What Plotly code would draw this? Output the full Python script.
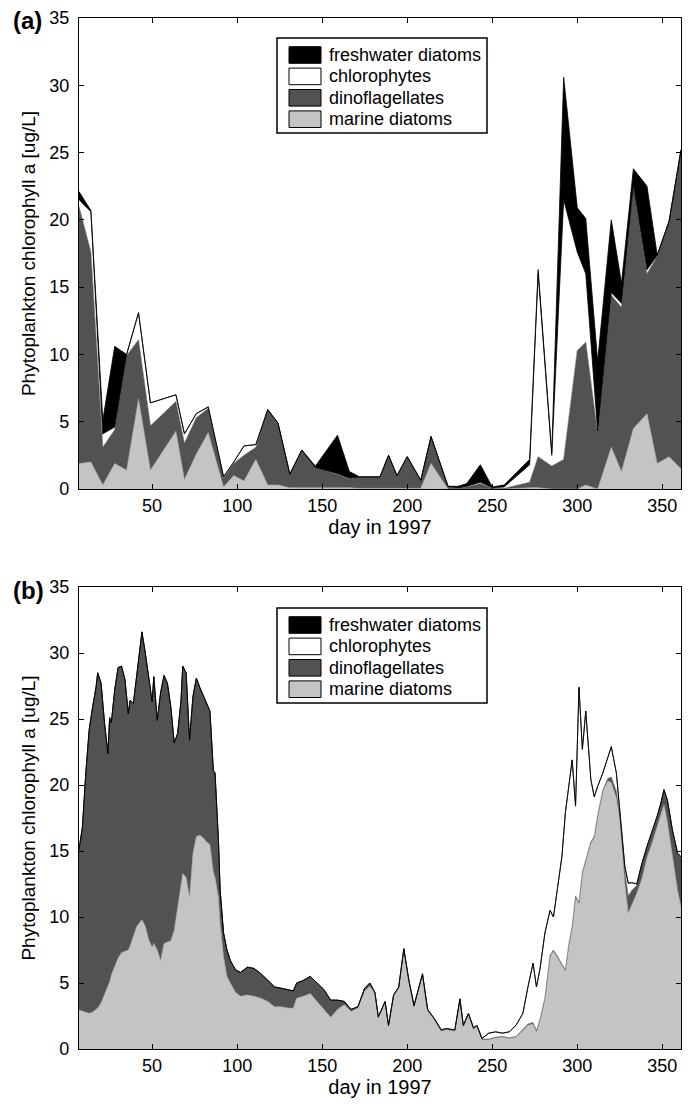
import plotly.graph_objects as go

W, H = 691, 1106
FONT = "Liberation Sans, Arial, Helvetica, sans-serif"

# ---------------- series definitions ----------------
series_names = ["marine diatoms", "dinoflagellates", "chlorophytes", "freshwater diatoms"]
fill_colors = ["#c4c4c4", "#525252", "#ffffff", "#000000"]
edge_colors = ["#a0a0a0", "#525252", "#000000", "#000000"]

x_ticks = [50, 100, 150, 200, 250, 300, 350]
y_ticks = [0, 5, 10, 15, 20, 25, 30, 35]

# ---------------- panel (a): cumulative stack levels (ug/L) ----------------
a_day = [7, 14, 21, 28, 35, 42, 49, 64, 69, 76, 83, 92, 98, 104, 111, 118, 124, 131,
         138, 146, 159, 166, 172, 184, 189, 194, 200, 208, 214, 224, 230, 235, 243,
         250, 257, 272, 277, 285, 292, 300, 305, 312, 320, 326, 333, 341, 347, 354, 361]
a_marine_top = [1.9, 2.0, 0.3, 1.9, 1.4, 6.7, 1.4, 4.3, 0.7, 2.6, 4.2, 0.15, 1.0, 0.6, 2.2, 0.3, 0.3, 0.1,
                0.1, 0.1, 0.15, 0.1, 0.05, 0.05, 0.1, 0.05, 0.1, 0.05, 1.9, 0.0, 0.0, 0.0, 0.0,
                0.0, 0.0, 0.1, 0.1, 0.0, 0.0, 0.0, 0.3, 0.0, 3.1, 1.3, 4.5, 5.6, 1.9, 2.4, 1.5]
a_dino_top = [21.0, 17.6, 3.1, 4.4, 9.9, 11.1, 4.7, 6.5, 3.4, 5.3, 6.0, 0.8, 1.9, 2.5, 3.1, 5.9, 4.9, 1.1,
              2.9, 1.6, 1.1, 0.75, 0.9, 0.9, 2.5, 1.0, 2.4, 0.65, 3.9, 0.2, 0.1, 0.15, 0.4,
              0.05, 0.05, 0.5, 2.4, 1.7, 2.2, 10.3, 10.9, 4.1, 14.4, 13.5, 22.5, 16.0, 17.3, 19.9, 25.2]
a_chloro_top = [21.5, 20.6, 4.1, 4.6, 10.0, 13.1, 6.4, 7.0, 4.1, 5.6, 6.1, 0.9, 2.0, 3.2, 3.3, 5.9, 4.9, 1.1,
                2.9, 1.6, 1.15, 0.8, 0.9, 0.9, 2.5, 1.0, 2.4, 0.65, 3.9, 0.2, 0.1, 0.2, 0.5,
                0.1, 0.15, 1.8, 16.0, 2.5, 21.5, 17.6, 16.0, 4.3, 14.6, 13.8, 22.6, 16.3, 17.35, 19.9, 25.2]
a_fresh_top = [22.1, 20.7, 5.1, 10.6, 10.0, 13.1, 6.4, 7.0, 4.1, 5.6, 6.1, 0.9, 2.0, 3.2, 3.3, 5.9, 4.9, 1.1,
               2.9, 1.7, 4.0, 1.3, 0.9, 0.9, 2.5, 1.0, 2.4, 0.65, 3.9, 0.2, 0.2, 0.4, 1.8,
               0.15, 0.3, 2.2, 16.3, 2.7, 30.6, 20.9, 20.1, 9.5, 20.0, 15.3, 23.8, 22.5, 17.4, 19.9, 25.2]

# ---------------- panel (b): cumulative stack levels (ug/L) ----------------
b_day = [7, 9, 11, 13, 15, 17, 18, 20, 22, 24, 25, 26, 28, 30, 32, 34, 36, 37, 39, 41,
         44, 46, 48, 50, 51, 53, 55, 57, 59, 61, 63, 65, 67, 68, 70, 72, 74, 76, 78, 80,
         82, 84, 86, 87, 89, 90, 92, 94, 96, 99, 102,
         106, 110, 114, 118, 122, 126, 130, 133, 135, 139, 143, 147, 151, 155, 159, 163, 167, 171, 175, 178,
         181, 183, 187, 189, 192, 195, 198, 201, 204, 209, 212, 216, 220, 223, 228, 231, 233, 236, 239, 241,
         244, 248, 252, 256, 260, 264, 268, 271, 274, 276, 278, 281, 284, 286, 288, 291, 293, 295, 297, 299,
         301, 303, 305, 308, 310, 312, 315, 318, 320, 323, 325, 328, 330, 332, 335, 338, 341, 344, 347, 349,
         351, 353, 356, 359, 361]
b_marine_top = [2.95, 2.85, 2.8, 2.7, 2.8, 3.0, 3.1, 3.5, 4.1, 4.8, 5.1, 5.6, 6.3, 6.9, 7.3, 7.4, 7.5, 7.8, 8.5, 9.3,
                9.8, 9.3, 8.3, 7.7, 8.0, 7.5, 6.7, 8.0, 8.1, 8.2, 9.0, 10.8, 12.8, 13.3, 13.0, 11.5, 14.8, 16.1, 16.2, 16.0,
                15.7, 15.5, 13.4, 13.0, 11.5, 9.5, 7.0, 5.5, 5.0, 4.3, 4.0,
                4.1, 4.0, 3.85, 3.6, 3.2, 3.2, 3.1, 3.1, 3.85, 4.0, 4.2, 3.6, 3.0, 2.4, 3.0, 3.35, 2.85, 3.1, 4.4, 4.75,
                4.2, 2.35, 3.5, 1.7, 4.0, 4.6, 7.5, 5.1, 3.2, 5.6, 2.9, 2.2, 1.35, 1.45, 1.35, 3.7, 1.7, 2.6, 1.5, 1.7,
                0.7, 0.7, 0.85, 0.9, 0.8, 0.9, 1.4, 1.8, 1.9, 1.3, 2.1, 3.8, 7.0, 7.4, 7.0, 6.3, 5.9, 7.8, 9.2, 11.5,
                11.0, 13.3, 14.3, 15.6, 16.0, 17.6, 19.5, 20.3, 20.2, 19.0, 17.5, 12.5, 10.3, 10.9, 11.8, 12.9, 14.5, 15.6, 16.8, 17.6,
                18.5, 17.2, 14.5, 12.0, 10.8]
b_dino_top = [15.1, 16.8, 20.9, 24.2, 25.9, 27.4, 28.5, 27.7, 24.7, 22.4, 25.1, 24.7, 27.2, 28.9, 29.0, 28.0, 25.4, 26.4, 26.2, 28.5,
              31.6, 30.0, 28.2, 26.3, 28.2, 24.9, 27.0, 28.3, 27.7, 25.9, 23.2, 23.9, 26.4, 29.0, 28.5, 23.4, 26.7, 28.1, 27.4, 26.8,
              26.1, 25.6, 21.1, 20.9, 15.8, 12.0, 8.8, 7.5, 6.7, 6.0, 5.8,
              6.2, 6.1, 5.7, 5.2, 4.7, 4.6, 4.5, 4.4, 5.0, 5.2, 5.5, 5.0, 4.5, 3.7, 3.7, 3.6, 3.0, 3.2, 4.6, 5.0,
              4.25, 2.4, 3.55, 1.75, 4.05, 4.65, 7.55, 5.15, 3.25, 5.65, 2.95, 2.25, 1.4, 1.5, 1.4, 3.75, 1.75, 2.65, 1.55, 1.75,
              0.75, 0.75, 0.9, 0.95, 0.85, 0.95, 1.5, 1.9, 2.0, 1.4, 2.2, 3.9, 7.1, 7.5, 7.1, 6.4, 6.0, 7.9, 9.3, 11.6,
              11.1, 13.4, 14.4, 15.7, 16.1, 17.7, 19.6, 20.5, 20.6, 19.5, 17.8, 13.4, 11.6, 12.0, 12.4, 14.0, 15.3, 16.4, 17.6, 18.5,
              19.6, 18.8, 16.5, 14.8, 14.5]
b_chloro_top = [15.1, 16.8, 20.9, 24.2, 25.9, 27.4, 28.5, 27.7, 24.7, 22.4, 25.1, 24.7, 27.2, 28.9, 29.0, 28.0, 25.4, 26.4, 26.2, 28.5,
                31.6, 30.0, 28.2, 26.3, 28.2, 24.9, 27.0, 28.3, 27.7, 25.9, 23.2, 23.9, 26.4, 29.0, 28.5, 23.4, 26.7, 28.1, 27.4, 26.8,
                26.1, 25.6, 21.1, 20.9, 15.8, 12.0, 8.8, 7.5, 6.7, 6.0, 5.8,
                6.2, 6.1, 5.7, 5.2, 4.7, 4.6, 4.5, 4.4, 5.0, 5.2, 5.5, 5.0, 4.5, 3.7, 3.7, 3.6, 3.0, 3.2, 4.6, 5.0,
                4.3, 2.45, 3.6, 1.8, 4.1, 4.7, 7.6, 5.2, 3.3, 5.7, 3.0, 2.3, 1.45, 1.55, 1.45, 3.8, 1.8, 2.7, 1.6, 1.8,
                0.8, 1.2, 1.3, 1.2, 1.3, 1.8, 2.7, 4.7, 6.5, 4.7, 6.0, 8.8, 10.5, 10.0, 11.8, 14.6, 17.9, 19.9, 21.9, 18.4,
                27.4, 22.7, 25.6, 20.4, 19.1, 19.9, 20.9, 22.1, 22.9, 20.9, 17.9, 13.8, 12.55, 12.6, 12.5, 14.05, 15.35, 16.45, 17.65, 18.55,
                19.65, 18.85, 16.55, 14.85, 14.55]
# freshwater diatoms are ~0 in panel (b): their stack top coincides with chlorophytes
b_fresh_top = list(b_chloro_top)

for arr in (b_marine_top, b_dino_top, b_chloro_top):
    assert len(arr) == len(b_day), (len(arr), len(b_day))
for arr in (a_marine_top, a_dino_top, a_chloro_top, a_fresh_top):
    assert len(arr) == len(a_day), (len(arr), len(a_day))


def pxx(x):
    return x / W


def pxy(y):
    return 1 - y / H


fig = go.Figure()

panels = [
    ("x", "y", a_day, [a_marine_top, a_dino_top, a_chloro_top, a_fresh_top]),
    ("x2", "y2", b_day, [b_marine_top, b_dino_top, b_chloro_top, b_fresh_top]),
]
for xa, ya, days, tops in panels:
    for i, (name, yv) in enumerate(zip(series_names, tops)):
        fig.add_trace(go.Scatter(
            x=days, y=yv, name=name, mode="lines",
            fill="tozeroy" if i == 0 else "tonexty",
            fillcolor=fill_colors[i],
            line=dict(color=edge_colors[i], width=0.8 if i >= 2 else 0.6),
            xaxis=xa, yaxis=ya, showlegend=False,
        ))

# plot-area pixel geometry
PLOT_L, PLOT_R = 79, 681
A_TOP, A_BOT = 18, 489
B_TOP, B_BOT = 587, 1049

axis_common = dict(
    showline=True, linecolor="black", linewidth=1.2, mirror="ticks",
    ticks="inside", ticklen=5, tickwidth=1, tickcolor="black",
    showgrid=False, zeroline=False, automargin=False,
    tickfont=dict(family=FONT, size=18, color="black"),
)
xcommon = dict(axis_common, range=[7, 361], tickvals=x_ticks,
               domain=[pxx(PLOT_L), pxx(PLOT_R)])
ycommon = dict(axis_common, range=[0, 35], tickvals=y_ticks, ticklabelstandoff=5)

ytitle = dict(text="Phytoplankton chlorophyll a [ug/L]",
              font=dict(family=FONT, size=19, color="black"), standoff=8)
xtitle = dict(text="day in 1997", font=dict(family=FONT, size=20, color="black"), standoff=0)

fig.update_layout(
    width=W, height=H, autosize=False,
    margin=dict(l=0, r=0, t=0, b=0),
    paper_bgcolor="white", plot_bgcolor="white",
    font=dict(family=FONT, color="black"),
    showlegend=False,
    xaxis=dict(xcommon, anchor="y", title=xtitle),
    yaxis=dict(ycommon, anchor="x", domain=[pxy(A_BOT), pxy(A_TOP)], title=ytitle),
    xaxis2=dict(xcommon, anchor="y2", title=xtitle),
    yaxis2=dict(ycommon, anchor="x2", domain=[pxy(B_BOT), pxy(B_TOP)], title=ytitle),
)

# panel labels
for label, ycen in (("(a)", 21), ("(b)", 590)):
    fig.add_annotation(text="<b>%s</b>" % label, xref="paper", yref="paper",
                       x=pxx(11), y=pxy(ycen), xanchor="left", yanchor="middle",
                       showarrow=False, font=dict(family=FONT, size=24, color="black"))

# legends (box, swatches, labels) – freshwater diatoms listed first
legend_order = [3, 2, 1, 0]
for top in (38, 608):
    fig.add_shape(type="rect", xref="paper", yref="paper",
                  x0=pxx(277), x1=pxx(487), y0=pxy(top + 95), y1=pxy(top),
                  line=dict(color="black", width=1.5), fillcolor="white", layer="above")
    for j, idx in enumerate(legend_order):
        cy = top + 17 + j * 21.4
        fig.add_shape(type="rect", xref="paper", yref="paper",
                      x0=pxx(289), x1=pxx(321), y0=pxy(cy + 8.3), y1=pxy(cy - 8.3),
                      line=dict(color="black", width=1), fillcolor=fill_colors[idx], layer="above")
        fig.add_annotation(text=series_names[idx], xref="paper", yref="paper",
                           x=pxx(327), y=pxy(cy), xanchor="left", yanchor="middle",
                           showarrow=False, font=dict(family=FONT, size=18, color="black"))

fig.write_html("out.html",
               config={"displayModeBar": False},
               post_script="document.body.style.margin='0';document.body.style.overflow='hidden';")
